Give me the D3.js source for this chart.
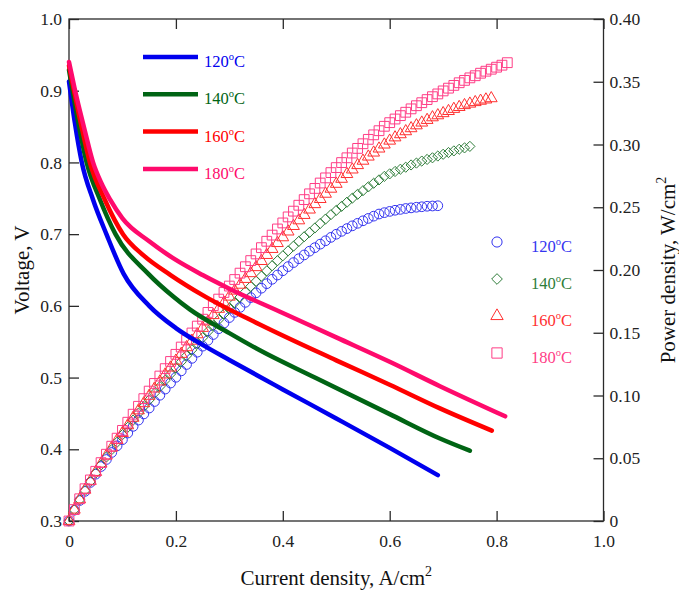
<!DOCTYPE html>
<html>
<head>
<meta charset="utf-8">
<script src="https://cdn.jsdelivr.net/npm/d3@7"></script>
<style>
  body { margin: 0; background: #fff; }
  text { font-family: "Liberation Serif", "Times New Roman", serif; }
</style>
</head>
<body>
<script>
let width = 679;
let height = 591;
let margin = {left: 69, right: 76, top: 19, bottom: 70};

// temperatures / colours
let temps = ["120", "140", "160", "180"];
let lineColors = ["#0000ee", "#006414", "#ff0000", "#ff0a6c"];
let markColors = ["#3434f0", "#2f7d3a", "#ff3030", "#ff3d86"];

// polarization curves (current density A/cm2, voltage V)
let polJ120 = [0, 0.011, 0.024, 0.045, 0.07, 0.102, 0.15, 0.2, 0.25, 0.3, 0.4, 0.5, 0.6, 0.69];
let polV120 = [0.913, 0.855, 0.80, 0.748, 0.70, 0.645, 0.60, 0.569, 0.5455, 0.5245, 0.4835, 0.443, 0.402, 0.364];
let polJ140 = [0, 0.0175, 0.033, 0.058, 0.087, 0.148, 0.195, 0.226, 0.3, 0.357, 0.46, 0.6, 0.694, 0.75];
let polV140 = [0.929, 0.855, 0.80, 0.748, 0.70, 0.645, 0.613, 0.595, 0.562, 0.538, 0.50, 0.449, 0.415, 0.398];
let polJ160 = [0, 0.022, 0.039, 0.067, 0.101, 0.14, 0.19, 0.25, 0.357, 0.5, 0.6, 0.694, 0.791];
let polV160 = [0.935, 0.855, 0.80, 0.748, 0.70, 0.67, 0.643, 0.615, 0.574, 0.524, 0.49, 0.457, 0.426];
let polJ180 = [0, 0.01, 0.02, 0.03, 0.045, 0.06, 0.077, 0.1, 0.15, 0.2, 0.25, 0.3, 0.4, 0.5, 0.6, 0.694, 0.816];
let polV180 = [0.94, 0.905, 0.873, 0.843, 0.80, 0.772, 0.748, 0.722, 0.69, 0.664, 0.643, 0.624, 0.59, 0.556, 0.522, 0.488, 0.446];

// power density points, one per current step
let currentSteps = [0, 0.01, 0.02, 0.03, 0.04, 0.05, 0.06, 0.07, 0.08, 0.09,
  0.10, 0.11, 0.12, 0.13, 0.14, 0.15, 0.16, 0.17, 0.18, 0.19,
  0.20, 0.21, 0.22, 0.23, 0.24, 0.25, 0.26, 0.27, 0.28, 0.29,
  0.30, 0.31, 0.32, 0.33, 0.34, 0.35, 0.36, 0.37, 0.38, 0.39,
  0.40, 0.41, 0.42, 0.43, 0.44, 0.45, 0.46, 0.47, 0.48, 0.49,
  0.50, 0.51, 0.52, 0.53, 0.54, 0.55, 0.56, 0.57, 0.58, 0.59,
  0.60, 0.61, 0.62, 0.63, 0.64, 0.65, 0.66, 0.67, 0.68, 0.69,
  0.70, 0.71, 0.72, 0.73, 0.74, 0.75, 0.76, 0.77, 0.78, 0.79,
  0.80, 0.81, 0.82];
let power120 = [0, 0.0086, 0.0163, 0.0236, 0.0307, 0.0373, 0.0434, 0.049, 0.0546, 0.0599,
  0.0648, 0.0701, 0.0754, 0.0804, 0.0853, 0.09, 0.0952, 0.1002, 0.1051, 0.1099,
  0.1145, 0.1196, 0.1247, 0.1296, 0.1345, 0.1393, 0.144, 0.1486, 0.1532, 0.1577,
  0.1621, 0.1662, 0.1702, 0.1742, 0.178, 0.1818, 0.1855, 0.1891, 0.1926, 0.196,
  0.1994, 0.2027, 0.2059, 0.209, 0.212, 0.215, 0.2178, 0.2206, 0.2233, 0.226,
  0.2285, 0.2308, 0.233, 0.2352, 0.2372, 0.2392, 0.2411, 0.2429, 0.2446, 0.2457,
  0.2467, 0.2476, 0.2483, 0.249, 0.2495, 0.25, 0.2504, 0.2508, 0.251, 0.2512];
let power140 = [0, 0.0089, 0.0169, 0.0243, 0.0314, 0.0382, 0.0447, 0.051, 0.0569, 0.0628,
  0.0688, 0.0747, 0.0804, 0.086, 0.0913, 0.0965, 0.1019, 0.1071, 0.1122, 0.1171,
  0.122, 0.1269, 0.1317, 0.1364, 0.1413, 0.1461, 0.1509, 0.1557, 0.1604, 0.165,
  0.1694, 0.1739, 0.1784, 0.1826, 0.1869, 0.191, 0.1951, 0.1993, 0.2034, 0.2074,
  0.2113, 0.2153, 0.219, 0.2228, 0.2265, 0.23, 0.2335, 0.2371, 0.2406, 0.2441,
  0.2475, 0.2507, 0.254, 0.2572, 0.2603, 0.2632, 0.2662, 0.2691, 0.2718, 0.2746,
  0.2766, 0.2785, 0.2803, 0.2819, 0.2837, 0.2852, 0.2868, 0.2881, 0.2894, 0.2908,
  0.2922, 0.2936, 0.2949, 0.2962, 0.2973, 0.2985];
let power160 = [0, 0.009, 0.0172, 0.0249, 0.0319, 0.039, 0.0457, 0.0521, 0.0584, 0.0644,
  0.0701, 0.0762, 0.0822, 0.0881, 0.0938, 0.0997, 0.1055, 0.1111, 0.1167, 0.1222,
  0.1277, 0.1331, 0.1384, 0.1436, 0.1487, 0.1538, 0.1589, 0.164, 0.169, 0.1739,
  0.1787, 0.1835, 0.1882, 0.1928, 0.1974, 0.2022, 0.2071, 0.2119, 0.2167, 0.2214,
  0.226, 0.2306, 0.235, 0.2395, 0.2438, 0.2481, 0.2524, 0.2565, 0.2607, 0.2647,
  0.2686, 0.2726, 0.2764, 0.28, 0.2835, 0.287, 0.2903, 0.2935, 0.2967, 0.2999,
  0.303, 0.3056, 0.3081, 0.3105, 0.3129, 0.3152, 0.3174, 0.3195, 0.3216, 0.3232,
  0.3249, 0.3266, 0.3283, 0.3298, 0.3313, 0.3325, 0.3337, 0.3348, 0.3358, 0.3368];
let power180 = [0, 0.0091, 0.0177, 0.0257, 0.0327, 0.0396, 0.0465, 0.0532, 0.0596, 0.066,
  0.0722, 0.0787, 0.0851, 0.0914, 0.0975, 0.1035, 0.1096, 0.1155, 0.1214, 0.1271,
  0.1328, 0.1386, 0.1442, 0.1498, 0.1553, 0.1608, 0.1662, 0.1716, 0.1768, 0.1821,
  0.1872, 0.1924, 0.1975, 0.2026, 0.2075, 0.2128, 0.2178, 0.2229, 0.2278, 0.2327,
  0.2375, 0.2423, 0.2469, 0.2516, 0.2561, 0.2607, 0.265, 0.2693, 0.2734, 0.2776,
  0.2816, 0.2856, 0.2894, 0.2932, 0.2969, 0.3006, 0.3041, 0.3077, 0.311, 0.3145,
  0.3174, 0.3203, 0.323, 0.3257, 0.3284, 0.3309, 0.3333, 0.3358, 0.3381, 0.3403,
  0.3427, 0.3449, 0.3471, 0.3492, 0.3511, 0.3531, 0.3548, 0.3568, 0.3584, 0.36,
  0.3616, 0.3632, 0.3652];

// tick values
let xTicks = [0, 0.2, 0.4, 0.6, 0.8, 1.0];
let vTicks = [0.3, 0.4, 0.5, 0.6, 0.7, 0.8, 0.9, 1.0];
let pTicks = [0, 0.05, 0.10, 0.15, 0.20, 0.25, 0.30, 0.35, 0.40];

let polJ = [polJ120, polJ140, polJ160, polJ180];
let polV = [polV120, polV140, polV160, polV180];
let powers = [power120, power140, power160, power180];

let svg = d3.select("body").append("svg")
    .attr("width", width)
    .attr("height", height);

let x = d3.scaleLinear().domain([0, 1]).range([margin.left, width - margin.right + 0.5]);
let yV = d3.scaleLinear().domain([0.3, 1.0]).range([height - margin.bottom, margin.top]);
let yP = d3.scaleLinear().domain([0, 0.4]).range([height - margin.bottom, margin.top]);

let plotW = x(1) - x(0);
let plotH = yV(0.3) - yV(1.0);
let axisColor = "#2a2a2a";
let tickLen = 10;

// axes, ticks pointing inward
let bottomAxis = d3.axisBottom(x).tickValues(xTicks).tickSize(-tickLen).tickPadding(14)
    .tickFormat(function(d){ return d === 0 ? "0" : d3.format(".1f")(d); });
let topAxis = d3.axisTop(x).tickValues(xTicks).tickSize(-tickLen).tickFormat("");
let leftAxis = d3.axisLeft(yV).tickValues(vTicks).tickSize(-tickLen).tickPadding(7)
    .tickFormat(d3.format(".1f"));
let rightAxis = d3.axisRight(yP).tickValues(pTicks).tickSize(-tickLen).tickPadding(6)
    .tickFormat(function(d){ return d === 0 ? "0" : d3.format(".2f")(d); });

function styleAxis(g){
    g.select(".domain").remove();
    g.selectAll(".tick line").attr("stroke", axisColor).attr("stroke-width", 1.3);
    g.selectAll(".tick text")
        .attr("fill", "#222")
        .style("font-size", "17.5px")
        .style("font-family", "'Liberation Serif', serif");
}

svg.append("g").attr("transform", "translate(0," + yV(0.3) + ")").call(bottomAxis).call(styleAxis);
svg.append("g").attr("transform", "translate(0," + yV(1.0) + ")").call(topAxis).call(styleAxis);
svg.append("g").attr("transform", "translate(" + x(0) + ",0)").call(leftAxis).call(styleAxis);
svg.append("g").attr("transform", "translate(" + x(1) + ",0)").call(rightAxis).call(styleAxis);

svg.append("rect")
    .attr("x", x(0))
    .attr("y", yV(1.0))
    .attr("width", plotW)
    .attr("height", plotH)
    .attr("fill", "none")
    .attr("stroke", axisColor)
    .attr("stroke-width", 1.3);

// power density markers
let symbols = [d3.symbolCircle, d3.symbolDiamond2 || d3.symbolDiamond, d3.symbolTriangle, d3.symbolSquare];
let symbolSizes = [74, 66, 60, 96];

let markGroup = svg.append("g").attr("class", "markers");
powers.forEach(function(series, i){
    let pts = series.map(function(p, k){ return {j: currentSteps[k], p: p}; });
    markGroup.append("g")
        .selectAll("path")
        .data(pts)
        .enter()
        .append("path")
            .attr("d", d3.symbol().type(symbols[i]).size(symbolSizes[i]))
            .attr("transform", function(d){
                return "translate(" + x(d.j) + "," + yP(d.p) + ")";
            })
            .attr("fill", "none")
            .attr("stroke", markColors[i])
            .attr("stroke-width", 1);
});

// voltage lines
let line = d3.line()
    .x(function(d){ return x(d.j); })
    .y(function(d){ return yV(d.v); })
    .curve(d3.curveMonotoneX);

polV.forEach(function(series, i){
    let pts = series.map(function(v, k){ return {j: polJ[i][k], v: v}; });
    svg.append("path")
        .datum(pts)
        .attr("d", line)
        .attr("fill", "none")
        .attr("stroke", lineColors[i])
        .attr("stroke-width", 4.5)
        .attr("stroke-linecap", "round")
        .attr("stroke-linejoin", "round");
});

function tempLabel(sel){
    sel.each(function(d){
        let t = d3.select(this);
        t.append("tspan").text(d);
        t.append("tspan").attr("dy", -7).style("font-size", "10.5px").text("o");
        t.append("tspan").attr("dy", 7).text("C");
    });
}

// voltage legend (top left)
let legTop = svg.append("g").attr("class", "legendLines");
temps.forEach(function(t, i){
    let ly = 57 + i * 37.3;
    legTop.append("line")
        .attr("x1", 143).attr("x2", 198)
        .attr("y1", ly).attr("y2", ly)
        .attr("stroke", lineColors[i])
        .attr("stroke-width", 4.5);
    legTop.append("text")
        .datum(t)
        .attr("x", 204)
        .attr("y", ly + 10)
        .attr("fill", lineColors[i])
        .style("font-size", "16.5px")
        .call(tempLabel);
});

// power legend (right)
let legRight = svg.append("g").attr("class", "legendMarks");
temps.forEach(function(t, i){
    let ly = 242 + i * 37;
    legRight.append("path")
        .attr("d", d3.symbol().type(symbols[i]).size(symbolSizes[i] * 1.1))
        .attr("transform", "translate(497," + ly + ")")
        .attr("fill", "none")
        .attr("stroke", markColors[i])
        .attr("stroke-width", 1);
    legRight.append("text")
        .datum(t)
        .attr("x", 531)
        .attr("y", ly + 10)
        .attr("fill", markColors[i])
        .style("font-size", "16.5px")
        .call(tempLabel);
});

// axis titles
let xTitle = svg.append("text")
    .attr("x", (x(0) + x(1)) / 2)
    .attr("y", 585)
    .attr("text-anchor", "middle")
    .attr("fill", "#111")
    .style("font-size", "21px");
xTitle.append("tspan").text("Current density, A/cm");
xTitle.append("tspan").attr("dy", -9).style("font-size", "14px").text("2");

svg.append("text")
    .attr("transform", "translate(29," + (yV(0.3) + yV(1.0)) / 2 + ") rotate(-90)")
    .attr("text-anchor", "middle")
    .attr("fill", "#111")
    .style("font-size", "21px")
    .text("Voltage, V");

let pTitle = svg.append("text")
    .attr("transform", "translate(675," + (yV(0.3) + yV(1.0)) / 2 + ") rotate(-90)")
    .attr("text-anchor", "middle")
    .attr("fill", "#111")
    .style("font-size", "21px");
pTitle.append("tspan").text("Power density, W/cm");
pTitle.append("tspan").attr("dy", -9).style("font-size", "14px").text("2");
</script>
</body>
</html>
